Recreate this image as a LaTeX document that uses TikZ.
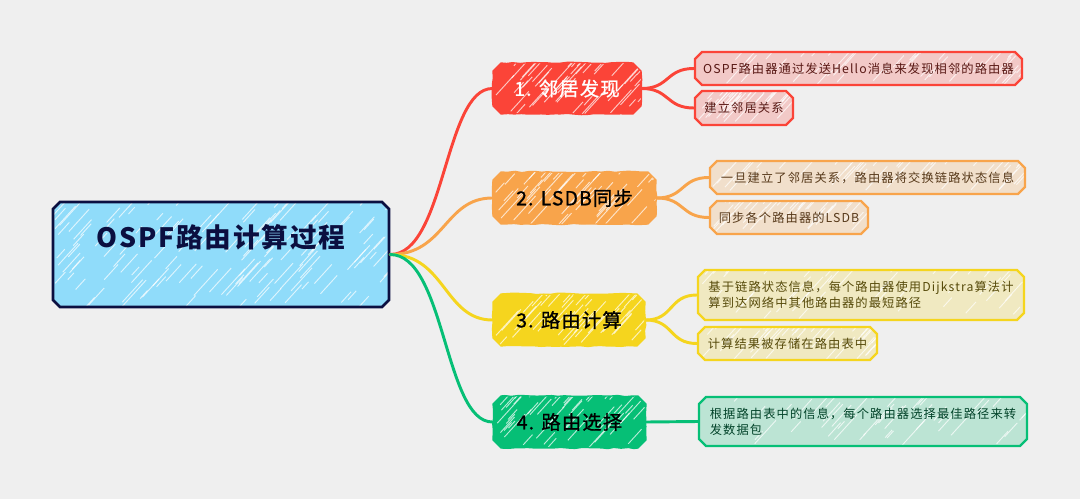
\documentclass[tikz,border=0pt]{standalone}
\usepackage{fontspec}
\setmainfont{Noto Sans CJK SC}
\newfontfamily\rootfont{Noto Sans CJK SC}[LetterSpace=7]
\newfontfamily\mainfont{Noto Sans CJK SC}[LetterSpace=6,FakeBold=1]
\newfontfamily\leaffont{Noto Sans CJK SC}[LetterSpace=9]
\usetikzlibrary{calc,shapes.misc,decorations.pathmorphing}
\definecolor{bgcol}{HTML}{EFEFEF}
\definecolor{navycol}{HTML}{0B0F40}
\definecolor{skycol}{HTML}{90DCFA}
\definecolor{redcol}{HTML}{FB4438}
\definecolor{orangecol}{HTML}{F8A44B}
\definecolor{yellowcol}{HTML}{F5D51E}
\definecolor{greencol}{HTML}{06BF76}
\tikzset{
    boxsize/.style 2 args={minimum width=#1*.75pt,minimum height=#2*.75pt},
    hatchline/.style={white,opacity=.7,line width=.7pt},
    hatched/.style={path picture={
        \path (path picture bounding box.south west) coordinate (hsw)
              (path picture bounding box.north east) coordinate (hne);
        \foreach \i in {1,...,#1}{
            \pgfmathsetmacro\hx{rnd}
            \pgfmathsetmacro\hy{rnd}
            \pgfmathsetmacro\hl{6+18*rnd}
            \coordinate (hp) at ($(hsw)!\hx!(hne)$);
            \coordinate (hq) at ($(hsw)!\hy!(hne)$);
            \draw[hatchline] (hp |- hq) -- ++(\hl,-1.1*\hl);
        }
    }},
    chamfer/.style={chamfered rectangle,chamfered rectangle xsep=#1*.75pt,
        chamfered rectangle ysep=#1*.75pt,inner sep=0pt},
    rootbox/.style={chamfer=3.5,draw=navycol,fill=skycol,line width=1.9pt,
        text=navycol,hatched=130,font=\rootfont\fontsize{20}{24}\selectfont\bfseries,
        text height=15pt,text depth=25pt},
    mainbox/.style={chamfer=4,draw=#1,fill=#1,line width=1pt,hatched=50,
        decorate,decoration={random steps,segment length=5pt,amplitude=.5pt},
        font=\mainfont\fontsize{14.5}{18}\selectfont},
    leafbox/.style={chamfer=3.5,draw=#1,fill=#1!22!bgcol,line width=1.8pt,
        hatched=45,text=#1!35!black,align=left,
        font=\leaffont\fontsize{9.2}{12}\selectfont},
    wire/.style={draw=#1,line width=2.2pt,line cap=round},
}
\begin{document}
\begin{tikzpicture}[x=.75pt,y=-.75pt]
    \pgfmathsetseed{11}
    \useasboundingbox (0,0) rectangle (1080,499);
    \fill[bgcol] (0,0) rectangle (1080,499);

    \node[rootbox,boxsize={336}{105}] (root) at (221,254.5) {OSPF路由计算过程};

    \node[mainbox=redcol,boxsize={148}{51},text=white] (neighbor) at (567,88.5) {1. 邻居发现};
    \node[mainbox=orangecol,boxsize={163}{52},text=black] (lsdb) at (574.5,198) {2. LSDB同步};
    \node[mainbox=yellowcol,boxsize={152}{52},text=black] (calcroute) at (569,320) {3. 路由计算};
    \node[mainbox=greencol,boxsize={153}{52},text=black] (choose) at (569.5,422) {4. 路由选择};

    \node[leafbox=redcol,boxsize={327}{33}] (hello) at (858.5,68.5) {OSPF路由器通过发送Hello消息来发现相邻的路由器};
    \node[leafbox=redcol,boxsize={98}{34}] (adjacent) at (744,108) {建立邻居关系};
    \node[leafbox=orangecol,boxsize={315}{33}] (exchange) at (867.5,177.5) {一旦建立了邻居关系，路由器将交换链路状态信息};
    \node[leafbox=orangecol,boxsize={158}{33}] (syncdb) at (789,217.5) {同步各个路由器的LSDB};
    \node[leafbox=yellowcol,boxsize={326}{50}] (dijkstra) at (861,295) {基于链路状态信息，每个路由器使用Dijkstra算法计\\算到达网络中其他路由器的最短路径};
    \node[leafbox=yellowcol,boxsize={179}{33}] (stored) at (787.5,343.5) {计算结果被存储在路由表中};
    \node[leafbox=greencol,boxsize={328}{49}] (forward) at (863,421.5) {根据路由表中的信息，每个路由器选择最佳路径来转\\发数据包};

    % branches out of the root
    \draw[wire=redcol] (root.east) .. controls +(55,0) and +(-48,0) .. (neighbor.west);
    \draw[wire=orangecol] (root.east) .. controls +(55,0) and +(-48,0) .. (lsdb.west);
    \draw[wire=yellowcol] (root.east) .. controls +(55,0) and +(-48,0) .. (calcroute.west);
    \draw[wire=greencol] (root.east) .. controls +(55,0) and +(-48,0) .. (choose.west);

    % branches out to the details
    \draw[wire=redcol] (neighbor.east) .. controls +(28,0) and +(-28,0) .. (hello.west);
    \draw[wire=redcol] (neighbor.east) .. controls +(28,0) and +(-28,0) .. (adjacent.west);
    \draw[wire=orangecol] (lsdb.east) .. controls +(28,0) and +(-28,0) .. (exchange.west);
    \draw[wire=orangecol] (lsdb.east) .. controls +(28,0) and +(-28,0) .. (syncdb.west);
    \draw[wire=yellowcol] (calcroute.east) .. controls +(28,0) and +(-28,0) .. (dijkstra.west);
    \draw[wire=yellowcol] (calcroute.east) .. controls +(28,0) and +(-28,0) .. (stored.west);
    \draw[wire=greencol] (choose.east) -- (forward.west);
\end{tikzpicture}
\end{document}
